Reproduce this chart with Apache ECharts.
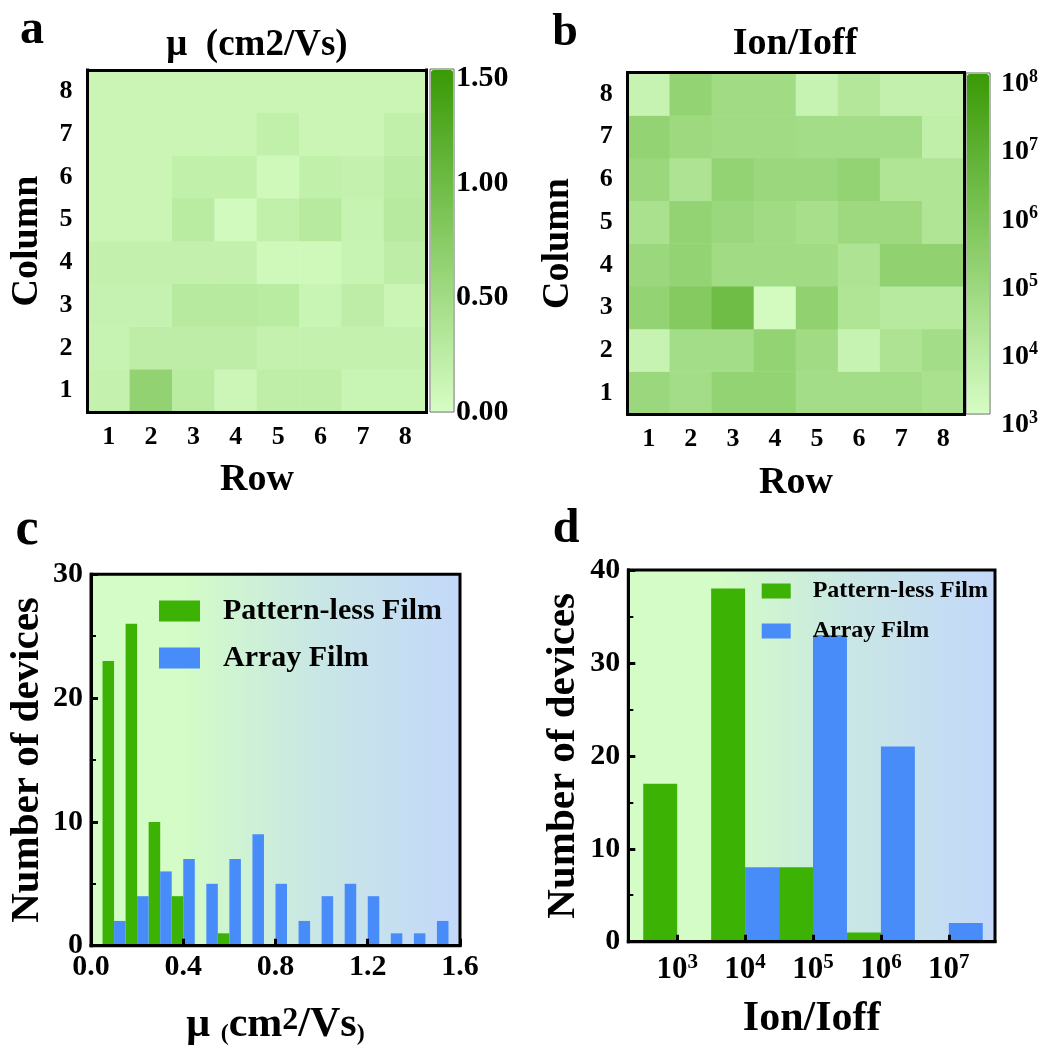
<!DOCTYPE html>
<html><head><meta charset="utf-8">
<script src="https://cdn.jsdelivr.net/npm/echarts@6/dist/echarts.min.js"></script>
<style>html,body{margin:0;padding:0;background:#fff}#chart{width:1047px;height:1055px}</style>
</head><body><div id="chart"></div>
<script>
// ---------- data ----------
const gridLabels = ['1', '2', '3', '4', '5', '6', '7', '8'];
// mobility (cm2/Vs); index 0 = Column 1, each row lists Row 1..8
const mobilityByColumn = [
  [0.17, 0.65, 0.28, 0.10, 0.22, 0.22, 0.13, 0.13],
  [0.15, 0.24, 0.24, 0.24, 0.17, 0.17, 0.17, 0.17],
  [0.16, 0.16, 0.30, 0.30, 0.28, 0.13, 0.24, 0.12],
  [0.18, 0.18, 0.18, 0.18, 0.07, 0.07, 0.14, 0.24],
  [0.12, 0.12, 0.28, 0.05, 0.20, 0.30, 0.15, 0.30],
  [0.12, 0.12, 0.20, 0.20, 0.07, 0.20, 0.17, 0.26],
  [0.12, 0.12, 0.12, 0.12, 0.20, 0.12, 0.12, 0.20],
  [0.12, 0.12, 0.12, 0.12, 0.12, 0.12, 0.12, 0.12]
];
// log10(Ion/Ioff); index 0 = Column 1
const onOffLog10ByColumn = [
  [4.9, 4.6, 5.1, 5.1, 4.6, 4.6, 4.6, 4.4],
  [3.5, 4.6, 4.6, 5.1, 4.7, 3.5, 4.3, 4.6],
  [5.1, 5.6, 6.3, 3.1, 5.2, 4.2, 4.0, 4.0],
  [4.9, 5.1, 4.7, 4.7, 4.7, 4.3, 5.2, 5.2],
  [4.4, 5.1, 4.9, 4.7, 4.5, 4.8, 4.8, 4.2],
  [4.9, 4.3, 5.1, 4.9, 4.9, 5.1, 4.2, 4.2],
  [5.1, 4.8, 4.7, 4.7, 4.6, 4.6, 4.6, 3.7],
  [3.5, 5.1, 4.7, 4.7, 3.5, 4.1, 3.6, 3.6]
];
// histogram of mobility
const muBinCenters = [0.1, 0.2, 0.3, 0.4, 0.5, 0.6, 0.7, 0.8, 0.9, 1.0, 1.1, 1.2, 1.3, 1.4, 1.5];
const muPatternless = [23, 26, 10, 4, 0, 1, 0, 0, 0, 0, 0, 0, 0, 0, 0];
const muArray = [2, 4, 6, 7, 5, 7, 9, 5, 2, 4, 5, 4, 1, 1, 2];
// histogram of Ion/Ioff (bins by decade exponent)
const ratioExponents = [3, 4, 5, 6, 7];
const ratioPatternless = [17, 38, 8, 1, 0];
const ratioArray = [0, 8, 33, 21, 2];
const seriesNames = ['Pattern-less Film', 'Array Film'];

// ---------- style ----------
const FONT = '"Liberation Serif", "Times New Roman", serif';
const GREEN = '#3bb204', BLUE = '#488cf9';
const CMAP = ['#d6fdc4', '#3a9a06'];
const bold = (size) => ({ fontFamily: FONT, fontWeight: 'bold', fontSize: size, color: '#000' });

function toCells(grid) {
  const out = [];
  grid.forEach((row, yi) => row.forEach((v, xi) => out.push([xi, yi, v])));
  return out;
}
function histRender(side, half) {
  return function (params, api) {
    const c = api.value(0), v = api.value(1);
    const x0 = side < 0 ? c - half : c;
    const x1 = side < 0 ? c : c + half;
    const p0 = api.coord([x0, v]);
    const p1 = api.coord([x1, 0]);
    return { type: 'rect', shape: { x: p0[0], y: p0[1], width: p1[0] - p0[0], height: p1[1] - p0[1] },
      style: { fill: api.visual('color') } };
  };
}
const blackLine = { lineStyle: { color: '#000', width: 3, cap: 'square' } };
const bgGradient = () => new echarts.graphic.LinearGradient(0, 0, 1, 0, [
  { offset: 0, color: '#d4fdc6' }, { offset: 0.25, color: '#d3fcc6' },
  { offset: 0.6, color: '#c9e7e4' }, { offset: 1, color: '#c3d8fa' }]);
const supRich = (big, small, raise, top) => ({
  b: { fontFamily: FONT, fontWeight: 'bold', fontSize: big, color: '#000', verticalAlign: 'bottom', padding: [top || 0, 0, 0, 0] },
  s: { fontFamily: FONT, fontWeight: 'bold', fontSize: small, color: '#000', verticalAlign: 'bottom', padding: [0, 0, raise, 0] }
});

function heatXAxis(gi, nameGap) {
  return [{
    type: 'category', gridIndex: gi, data: gridLabels, position: 'bottom', z: 10,
    axisLine: blackLine,
    axisTick: { inside: true, alignWithLabel: true, length: 6, lineStyle: { color: '#000', width: 3 } },
    axisLabel: Object.assign(bold(26), { margin: 12 }),
    name: 'Row', nameLocation: 'middle', nameGap: nameGap, nameTextStyle: bold(38)
  }, {
    type: 'category', gridIndex: gi, data: gridLabels, position: 'top', z: 10,
    axisLine: blackLine, axisTick: { show: false }, axisLabel: { show: false }
  }];
}
function heatYAxis(gi, nameGap) {
  return [{
    type: 'category', gridIndex: gi, data: gridLabels, position: 'left', z: 10,
    axisLine: blackLine,
    axisTick: { inside: true, alignWithLabel: true, length: 6, lineStyle: { color: '#000', width: 3 } },
    axisLabel: Object.assign(bold(26), { margin: 15 }),
    name: 'Column', nameLocation: 'middle', nameGap: nameGap, nameTextStyle: bold(38)
  }, {
    type: 'category', gridIndex: gi, data: gridLabels, position: 'right', z: 10,
    axisLine: blackLine, axisTick: { show: false }, axisLabel: { show: false }
  }];
}

const chart = echarts.init(document.getElementById('chart'), null, { renderer: 'canvas' });
const option = {
  animation: false,
  backgroundColor: '#fff',
  grid: [
    { left: 87.5, top: 70, width: 339, height: 342 },
    { left: 430, top: 69, width: 24, height: 343, show: true, borderColor: '#5d6d5d', borderWidth: 1 },
    { left: 627.7, top: 72.7, width: 336.6, height: 341.6 },
    { left: 966, top: 73, width: 24, height: 341, show: true, borderColor: '#5d6d5d', borderWidth: 1 },
    { left: 91, top: 574.3, width: 369, height: 371.4, show: true, backgroundColor: bgGradient(), borderColor: '#000', borderWidth: 3 },
    { left: 628.3, top: 570, width: 366.7, height: 371.7, show: true, backgroundColor: bgGradient(), borderColor: '#000', borderWidth: 3 }
  ],
  xAxis: [].concat(
    heatXAxis(0, 49),
    [{ type: 'value', gridIndex: 1, min: 0, max: 1, show: false }],
    heatXAxis(2, 50),
    [{ type: 'value', gridIndex: 3, min: 0, max: 1, show: false }],
    [{
      type: 'value', gridIndex: 4, min: 0, max: 1.6, interval: 0.4, z: 10,
      axisLine: blackLine,
      axisTick: { inside: true, length: 7, lineStyle: { color: '#000', width: 3 } },
      splitLine: { show: false },
      axisLabel: Object.assign(bold(30), { margin: 7, formatter: v => v.toFixed(1) }),
      name: '{m|μ }{p|(}{n|cm}{s|2}{n|/Vs}{p|)}', nameLocation: 'middle', nameGap: 58,
      nameTextStyle: { rich: {
        m: { fontFamily: FONT, fontWeight: 'bold', fontSize: 42, color: '#000', verticalAlign: 'bottom' },
        p: { fontFamily: FONT, fontWeight: 'bold', fontSize: 24, color: '#000', verticalAlign: 'bottom' },
        n: { fontFamily: FONT, fontWeight: 'bold', fontSize: 42, color: '#000', verticalAlign: 'bottom' },
        s: { fontFamily: FONT, fontWeight: 'bold', fontSize: 32, color: '#000', verticalAlign: 'bottom', padding: [0, 0, 9, 0] }
      } }
    }, {
      type: 'value', gridIndex: 5, min: 2.28, max: 7.68, z: 10,
      axisLine: blackLine,
      axisTick: { inside: true, length: 7, customValues: ratioExponents, lineStyle: { color: '#000', width: 3 } },
      splitLine: { show: false },
      axisLabel: { margin: 10, customValues: ratioExponents, formatter: v => '{b|10}{s|' + v + '}', rich: supRich(31, 21, 13) },
      name: 'Ion/Ioff', nameLocation: 'middle', nameGap: 56, nameTextStyle: bold(42)
    }]
  ),
  yAxis: [].concat(
    heatYAxis(0, 41),
    [{
      type: 'value', gridIndex: 1, min: 0, max: 1.5, interval: 0.5, position: 'right',
      axisLine: { show: false }, axisTick: { show: false }, splitLine: { show: false },
      axisLabel: { margin: 2, formatter: v => (v === 1.5 ? '{t|' : '{n|') + v.toFixed(2) + '}',
        rich: { n: bold(30), t: Object.assign(bold(30), { padding: [18, 0, 0, 0] }) } }
    }],
    heatYAxis(2, 51),
    [{
      type: 'value', gridIndex: 3, min: 3, max: 8, interval: 1, position: 'right',
      axisLine: { show: false }, axisTick: { show: false }, splitLine: { show: false },
      axisLabel: { margin: 11, formatter: v => '{b|10}{s|' + v + '}', rich: supRich(28, 18, 12, 22) }
    }],
    [{
      type: 'value', gridIndex: 4, min: 0, max: 30, interval: 10, z: 10,
      axisLine: blackLine,
      axisTick: { inside: true, length: 7, lineStyle: { color: '#000', width: 3 } },
      minorTick: { show: true, splitNumber: 2, length: 5, lineStyle: { color: '#000', width: 2 } },
      splitLine: { show: false },
      axisLabel: Object.assign(bold(30), { margin: 8 }),
      name: 'Number of devices', nameLocation: 'middle', nameGap: 43, nameTextStyle: bold(41)
    }, {
      type: 'value', gridIndex: 5, min: 0, max: 40, interval: 10, z: 10,
      axisLine: blackLine,
      axisTick: { inside: true, length: 7, lineStyle: { color: '#000', width: 3 } },
      minorTick: { show: true, splitNumber: 2, length: 5, lineStyle: { color: '#000', width: 2 } },
      splitLine: { show: false },
      axisLabel: Object.assign(bold(30), { margin: 8 }),
      name: 'Number of devices', nameLocation: 'middle', nameGap: 44, nameTextStyle: bold(41)
    }]
  ),
  visualMap: [
    { type: 'continuous', seriesIndex: 0, min: 0, max: 1.5, calculable: false, padding: 0,
      left: 431, top: 70, itemWidth: 22, itemHeight: 341, inRange: { color: CMAP }, text: null },
    { type: 'continuous', seriesIndex: 1, min: 3, max: 8, calculable: false, padding: 0,
      left: 967, top: 74, itemWidth: 22, itemHeight: 339, inRange: { color: CMAP }, text: null }
  ],
  legend: [
    { data: seriesNames, orient: 'vertical', left: 159, top: 596, padding: 0, icon: 'rect', selectedMode: false,
      itemWidth: 41, itemHeight: 21, itemGap: 17,
      formatter: n => '{t|' + n + '}',
      textStyle: { rich: { t: { fontFamily: FONT, fontWeight: 'bold', fontSize: 30, color: '#000', lineHeight: 21, padding: [0, 0, 0, 18] } } } },
    { data: seriesNames, orient: 'vertical', left: 761.7, top: 579, padding: 0, icon: 'rect', selectedMode: false,
      itemWidth: 29, itemHeight: 15, itemGap: 16,
      formatter: n => '{t|' + n + '}',
      textStyle: { rich: { t: { fontFamily: FONT, fontWeight: 'bold', fontSize: 24, color: '#000', lineHeight: 15, padding: [0, 0, 0, 17] } } } }
  ],
  graphic: [
    { type: 'text', x: 32, y: 31, style: { text: 'a', align: 'center', verticalAlign: 'middle', font: 'bold 48px ' + FONT, fill: '#000' } },
    { type: 'text', x: 565, y: 33, style: { text: 'b', align: 'center', verticalAlign: 'middle', font: 'bold 46px ' + FONT, fill: '#000' } },
    { type: 'text', x: 27, y: 531, style: { text: 'c', align: 'center', verticalAlign: 'middle', font: 'bold 52px ' + FONT, fill: '#000' } },
    { type: 'text', x: 566, y: 530, style: { text: 'd', align: 'center', verticalAlign: 'middle', font: 'bold 48px ' + FONT, fill: '#000' } },
    { type: 'text', x: 257, y: 45, style: { text: 'μ  (cm2/Vs)', align: 'center', verticalAlign: 'middle', font: 'bold 37px ' + FONT, fill: '#000' } },
    { type: 'text', x: 795, y: 44, style: { text: 'Ion/Ioff', align: 'center', verticalAlign: 'middle', font: 'bold 38px ' + FONT, fill: '#000' } }
  ],
  series: [
    { type: 'heatmap', name: 'μ', xAxisIndex: 0, yAxisIndex: 0, data: toCells(mobilityByColumn), itemStyle: { borderWidth: 0 } },
    { type: 'heatmap', name: 'Ion/Ioff', xAxisIndex: 3, yAxisIndex: 3, data: toCells(onOffLog10ByColumn), itemStyle: { borderWidth: 0 } },
    { type: 'custom', name: seriesNames[0], xAxisIndex: 6, yAxisIndex: 6, itemStyle: { color: GREEN },
      encode: { x: 0, y: 1 }, renderItem: histRender(-1, 0.05), data: muBinCenters.map((c, i) => [c, muPatternless[i]]) },
    { type: 'custom', name: seriesNames[1], xAxisIndex: 6, yAxisIndex: 6, itemStyle: { color: BLUE },
      encode: { x: 0, y: 1 }, renderItem: histRender(1, 0.05), data: muBinCenters.map((c, i) => [c, muArray[i]]) },
    { type: 'custom', name: seriesNames[0], xAxisIndex: 7, yAxisIndex: 7, itemStyle: { color: GREEN },
      encode: { x: 0, y: 1 }, renderItem: histRender(-1, 0.5), data: ratioExponents.map((c, i) => [c, ratioPatternless[i]]) },
    { type: 'custom', name: seriesNames[1], xAxisIndex: 7, yAxisIndex: 7, itemStyle: { color: BLUE },
      encode: { x: 0, y: 1 }, renderItem: histRender(1, 0.5), data: ratioExponents.map((c, i) => [c, ratioArray[i]]) }
  ]
};
chart.setOption(option);
</script>
</body></html>
